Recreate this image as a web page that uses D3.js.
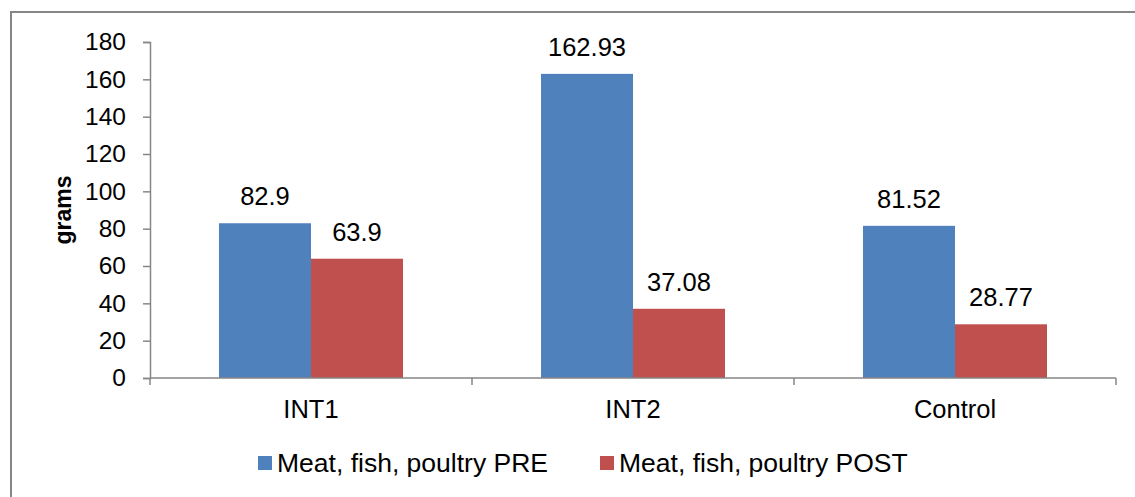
<!DOCTYPE html>
<html>
<head>
<meta charset="utf-8">
<script src="https://cdn.jsdelivr.net/npm/d3@7"></script>
<style>
  html, body { margin: 0; padding: 0; background: #fff; }
  svg { display: block; font-family: "Liberation Sans", Arial, sans-serif; }
</style>
</head>
<body>
<svg id="chart" width="1135" height="497"></svg>
<script>
const categories = ["INT1", "INT2", "Control"];
const seriesNames = ["Meat, fish, poultry PRE", "Meat, fish, poultry POST"];
const preValues = [82.9, 162.93, 81.52];
const postValues = [63.9, 37.08, 28.77];
const yTicks = [0, 20, 40, 60, 80, 100, 120, 140, 160, 180];
const colors = ["#4F81BD", "#C0504D"];
const yLabel = "grams";

const svg = d3.select("#chart");
const axisColor = "#868686";

// outer border
svg.append("rect")
  .attr("x", 11).attr("y", 12)
  .attr("width", 1140).attr("height", 520)
  .attr("fill", "none").attr("stroke", axisColor).attr("stroke-width", 2);

const x0 = d3.scaleBand().domain(categories).range([150, 1116]).paddingInner(0).paddingOuter(0);
const x1 = d3.scaleBand().domain([0, 1]).range([0, x0.bandwidth()]).paddingInner(0).paddingOuter(0.75);
const y = d3.scaleLinear().domain([0, 180]).range([378, 42]);

const series = [preValues, postValues];

// bars
series.forEach((vals, si) => {
  svg.append("g").selectAll("rect")
    .data(vals)
    .join("rect")
    .attr("x", (d, i) => x0(categories[i]) + x1(si))
    .attr("y", d => y(d))
    .attr("width", x1.bandwidth())
    .attr("height", d => y(0) - y(d))
    .attr("fill", colors[si]);
});

// y axis
const yAxis = d3.axisLeft(y).tickValues(yTicks).tickSize(7).tickPadding(17).tickFormat(d3.format("d"));
const gy = svg.append("g").attr("transform", "translate(150,0)").call(yAxis);
gy.select(".domain").attr("stroke", axisColor).attr("stroke-width", 1.5);
gy.selectAll(".tick line").attr("stroke", axisColor).attr("stroke-width", 1.5);
gy.selectAll(".tick text").attr("font-size", 24.5).attr("fill", "#000")
  .attr("font-family", "Liberation Sans, Arial, sans-serif");

// x axis
const gx = svg.append("g").attr("transform", "translate(0,378)");
gx.append("line").attr("x1", 150).attr("x2", 1116).attr("y1", 0).attr("y2", 0)
  .attr("stroke", axisColor).attr("stroke-width", 1.5);
const bounds = categories.map(c => x0(c)).concat([x0(categories[categories.length - 1]) + x0.bandwidth()]);
gx.selectAll(".xt").data(bounds).join("line")
  .attr("x1", d => d).attr("x2", d => d).attr("y1", 0).attr("y2", 7)
  .attr("stroke", axisColor).attr("stroke-width", 1.5);
gx.selectAll(".xl").data(categories).join("text")
  .attr("x", d => x0(d) + x0.bandwidth() / 2)
  .attr("y", 40)
  .attr("text-anchor", "middle")
  .attr("font-size", 25.5)
  .attr("fill", "#000")
  .text(d => d);

// data labels
series.forEach((vals, si) => {
  svg.append("g").selectAll("text")
    .data(vals)
    .join("text")
    .attr("x", (d, i) => x0(categories[i]) + x1(si) + x1.bandwidth() / 2)
    .attr("y", d => y(d) - 18)
    .attr("text-anchor", "middle")
    .attr("font-size", 25.5)
    .attr("fill", "#000")
    .text(d => d);
});

// y label
svg.append("text")
  .attr("transform", "translate(71,210) rotate(-90)")
  .attr("text-anchor", "middle")
  .attr("font-size", 23)
  .attr("font-weight", "bold")
  .attr("fill", "#000")
  .text(yLabel);

// legend
const legendItems = [{ x: 258, name: seriesNames[0], c: colors[0] }, { x: 600, name: seriesNames[1], c: colors[1] }];
const lg = svg.append("g");
legendItems.forEach(it => {
  lg.append("rect").attr("x", it.x).attr("y", 456).attr("width", 14).attr("height", 14).attr("fill", it.c);
  lg.append("text").attr("x", it.x + 19).attr("y", 472).attr("font-size", 26.5).attr("fill", "#000").text(it.name);
});
</script>
</body>
</html>
